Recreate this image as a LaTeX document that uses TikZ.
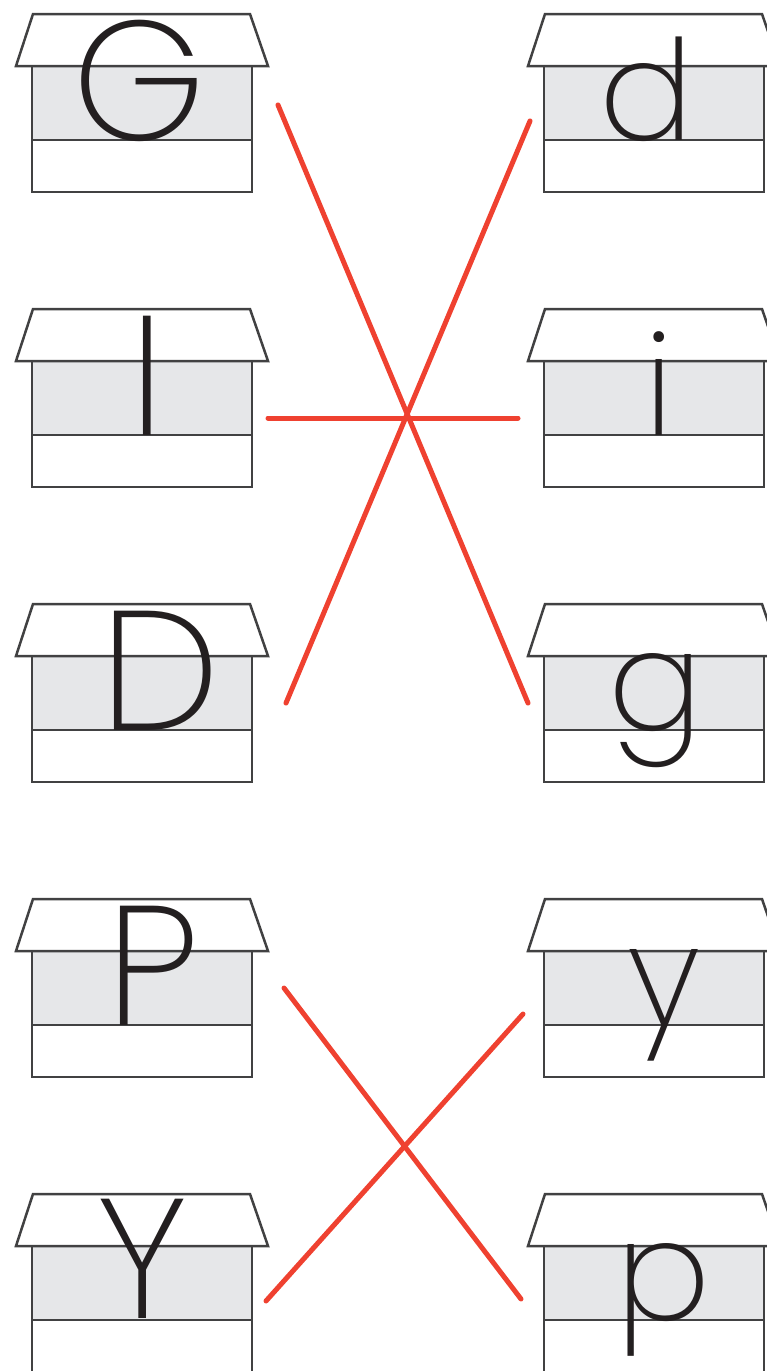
\documentclass[tikz,border=0pt]{standalone}
\usepackage{fontspec}
\newfontfamily\printfont{Poppins ExtraLight}
\definecolor{wallgray}{HTML}{414142}
\definecolor{bandgray}{HTML}{E6E7E9}
\definecolor{linered}{HTML}{EF4130}
\definecolor{ink}{HTML}{231F20}
% one house: #1 = left end of roof, #2 = top of roof
\newcommand{\house}[2]{%
  \fill[bandgray] (#1+16,#2+52) rectangle (#1+236,#2+126);
  \draw[wall] (#1+17,#2) -- (#1+234,#2) -- (#1+252,#2+52) -- (#1,#2+52) -- cycle;
  \draw[wall] (#1+16,#2+52) rectangle (#1+236,#2+178);
  \draw[wall] (#1+16,#2+126) -- (#1+236,#2+126);
}
\begin{document}
\begin{tikzpicture}[x=1pt,y=-1pt,
    wall/.style={draw=wallgray, line width=2.5pt},
    capital/.style={anchor=base, inner sep=0pt, text=ink, font=\printfont\fontsize{170}{170}\selectfont},
    lowcase/.style={anchor=base, inner sep=0pt, text=ink, font=\printfont\fontsize{140}{140}\selectfont},
    match/.style={draw=linered, line width=5pt, line cap=round}]
    \useasboundingbox (0,0) rectangle (767,1371);

    \foreach \r in {14,309,604,899,1194} {
        \house{16}{\r}
        \house{528}{\r}
    }

    % left column
    \node[capital] (G) at (139,140) {G};
    \node[capital] (I) at (147,435) {I};
    \node[capital] (D) at (160,730) {D};
    \node[capital] (P) at (153,1025) {P};
    \node[capital] (Y) at (142,1318) {Y};
    % right column
    \node[lowcase] (d) at (647,140) {d};
    \node[lowcase] (i) at (659,435) {i};
    \node[lowcase] (g) at (656,730) {g};
    \node[lowcase] (y) at (664,1025) {y};
    \node[lowcase] (p) at (664,1320) {p};

    % line ends
    \coordinate (Gend) at (278,105);
    \coordinate (gend) at (528,703);
    \coordinate (dend) at (530,121);
    \coordinate (Dend) at (286,703);
    \coordinate (Iend) at (268,418);
    \coordinate (iend) at (518,418);
    \coordinate (Pend) at (284,988);
    \coordinate (pend) at (521,1299);
    \coordinate (yend) at (523,1014);
    \coordinate (Yend) at (266,1301);

    \draw[match] (Gend) -- (gend);
    \draw[match] (dend) -- (Dend);
    \draw[match] (Iend) -- (iend);
    \draw[match] (Pend) -- (pend);
    \draw[match] (yend) -- (Yend);
\end{tikzpicture}
\end{document}
